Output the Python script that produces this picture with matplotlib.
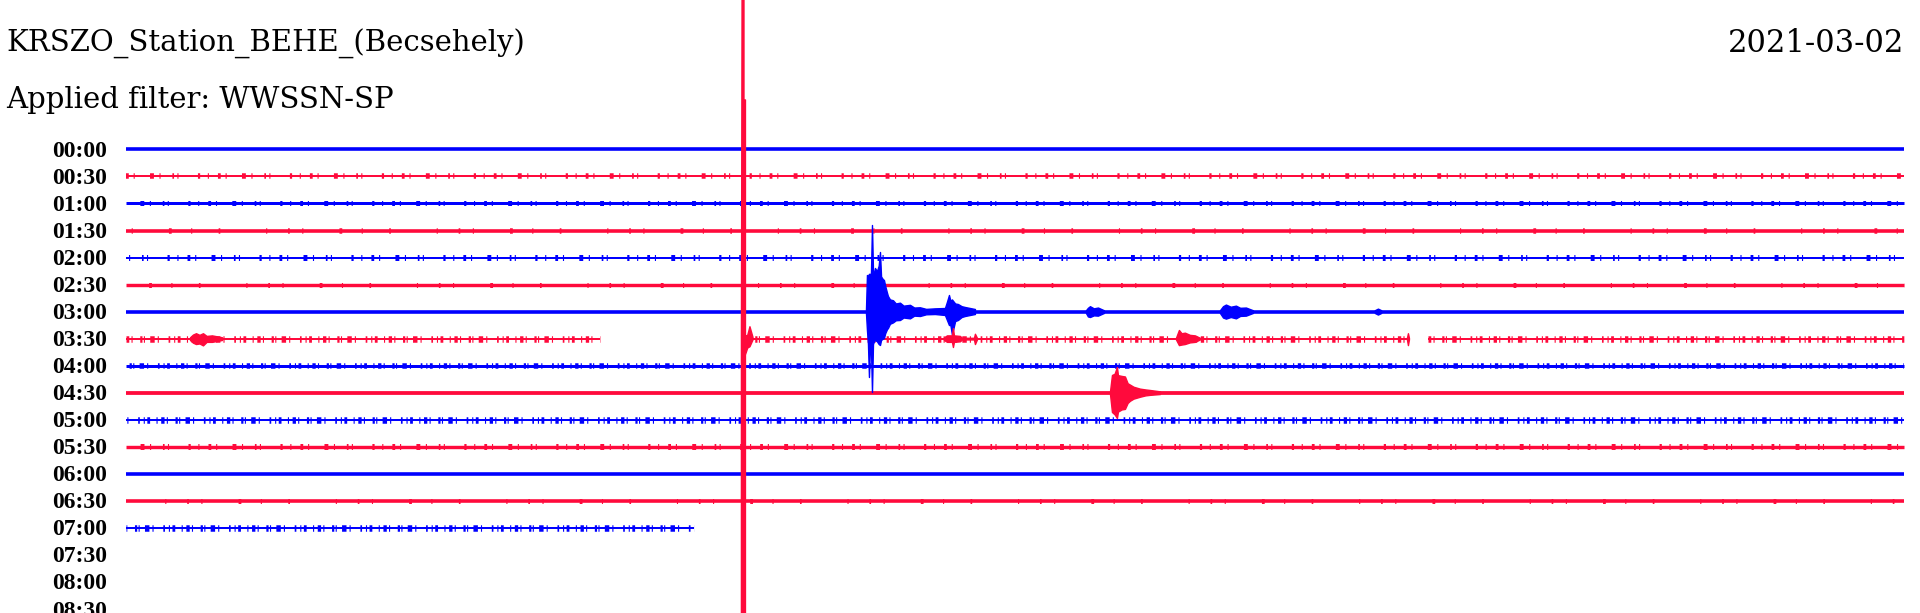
import numpy as np
import matplotlib
matplotlib.use("Agg")
import matplotlib.pyplot as plt

plt.rcParams['lines.scale_dashes'] = False

# Helicorder: 30 minutes per line, amplitudes in units of line spacing
station = "KRSZO_Station_BEHE_(Becsehely)"
filter_txt = "Applied filter: WWSSN-SP"
day = "2021-03-02"
row_labels = ["00:00", "00:30", "01:00", "01:30", "02:00", "02:30", "03:00", "03:30",
              "04:00", "04:30", "05:00", "05:30", "06:00", "06:30", "07:00", "07:30",
              "08:00", "08:30"]

# recorded stretches per line (minutes from line start)
segments = [[(0, 30)]] * 7 + [[(0, 8.0), (10.38, 21.66), (21.97, 30)]] + [[(0, 30)]] * 6 + [[(0, 9.58)]]

# events: minutes, upward / downward envelope (line spacings)
ev_0300_t = [12.485, 12.502, 12.519, 12.536, 12.553, 12.570, 12.587, 12.604, 12.620, 12.637,
             12.671, 12.700, 12.722, 12.740, 12.770, 12.789, 12.810, 12.840, 12.856, 12.890,
             12.941, 12.990, 13.059, 13.120, 13.228, 13.300, 13.396, 13.500, 13.650, 13.818,
             13.850, 13.886, 13.910, 13.936, 13.990, 14.037, 14.100, 14.156, 14.324]
ev_0300_up = [0.03, 1.354, 1.30, 1.40, 1.35, 1.45, 3.204, 1.50, 1.40, 1.613,
              1.50, 1.70, 2.205, 1.30, 1.20, 1.169, 0.95, 0.70, 0.577, 0.45,
              0.42, 0.30, 0.33, 0.22, 0.25, 0.15, 0.16, 0.10, 0.12, 0.133,
              0.35, 0.614, 0.40, 0.45, 0.30, 0.281, 0.20, 0.170, 0.096]
ev_0300_dn = [0.03, 0.681, 1.20, 2.420, 1.30, 1.35, 2.974, 1.20, 1.10, 1.051,
              1.10, 1.20, 1.236, 1.05, 1.00, 0.977, 0.80, 0.65, 0.607, 0.45,
              0.40, 0.32, 0.311, 0.22, 0.25, 0.15, 0.163, 0.10, 0.09, 0.126,
              0.30, 0.496, 0.50, 0.85, 0.35, 0.311, 0.20, 0.163, 0.089]

ev_0300b_t = [16.197, 16.230, 16.265, 16.330, 16.400, 16.501]
ev_0300b_up = [0.05, 0.14, 0.20, 0.12, 0.15, 0.05]
ev_0300b_dn = [0.05, 0.18, 0.20, 0.14, 0.15, 0.05]

ev_0300c_t = [18.458, 18.510, 18.559, 18.640, 18.728, 18.800, 18.897, 19.015]
ev_0300c_up = [0.05, 0.20, 0.26, 0.18, 0.22, 0.14, 0.15, 0.05]
ev_0300c_dn = [0.05, 0.22, 0.26, 0.20, 0.25, 0.16, 0.15, 0.05]

ev_0300d_t = [21.07, 21.124, 21.18]
ev_0300d_up = [0.05, 0.11, 0.05]
ev_0300d_dn = [0.05, 0.11, 0.05]

ev_0330a_t = [1.080, 1.130, 1.181, 1.240, 1.299, 1.360, 1.451, 1.620]
ev_0330a_up = [0.05, 0.15, 0.20, 0.14, 0.20, 0.10, 0.12, 0.05]
ev_0330a_dn = [0.05, 0.15, 0.20, 0.18, 0.25, 0.12, 0.12, 0.05]

# glitch spike at 03:40 that runs off the whole sheet
ev_0330b_t = [10.384, 10.410, 10.427, 10.427, 10.452, 10.452, 10.490, 10.528, 10.579]
ev_0330b_up = [0.05, 30, 30, 8.83, 8.83, 0.10, 0.12, 0.44, 0.05]
ev_0330b_dn = [30, 30, 30, 30, 30, 0.60, 0.35, 0.30, 0.05]

ev_0330c_t = [13.801, 13.852, 13.936, 13.953, 13.970, 14.071, 14.105, 14.307, 14.324, 14.358]
ev_0330c_up = [0.05, 0.12, 0.12, 0.39, 0.12, 0.10, 0.03, 0.03, 0.18, 0.03]
ev_0330c_dn = [0.05, 0.12, 0.12, 0.31, 0.12, 0.10, 0.03, 0.03, 0.20, 0.03]

ev_0330d_t = [17.716, 17.766, 17.810, 17.867, 17.950, 18.036, 18.121]
ev_0330d_up = [0.03, 0.32, 0.20, 0.22, 0.14, 0.12, 0.03]
ev_0330d_dn = [0.03, 0.24, 0.22, 0.20, 0.14, 0.12, 0.03]

ev_0330e_t = [21.613, 21.630, 21.647]
ev_0330e_up = [0.03, 0.20, 0.03]
ev_0330e_dn = [0.03, 0.24, 0.03]

ev_0430_t = [16.602, 16.636, 16.680, 16.720, 16.737, 16.800, 16.855, 16.900, 16.939, 17.000,
             17.108, 17.200, 17.277, 17.446]
ev_0430_up = [0.03, 0.655, 0.70, 0.951, 0.65, 0.62, 0.60, 0.35, 0.30, 0.22,
              0.15, 0.12, 0.10, 0.05]
ev_0430_dn = [0.03, 0.714, 0.80, 0.936, 0.70, 0.62, 0.60, 0.38, 0.30, 0.22,
              0.15, 0.10, 0.08, 0.05]

events = [
    (6, ev_0300_t, ev_0300_up, ev_0300_dn),
    (6, ev_0300b_t, ev_0300b_up, ev_0300b_dn),
    (6, ev_0300c_t, ev_0300c_up, ev_0300c_dn),
    (6, ev_0300d_t, ev_0300d_up, ev_0300d_dn),
    (7, ev_0330a_t, ev_0330a_up, ev_0330a_dn),
    (7, ev_0330b_t, ev_0330b_up, ev_0330b_dn),
    (7, ev_0330c_t, ev_0330c_up, ev_0330c_dn),
    (7, ev_0330d_t, ev_0330d_up, ev_0330d_dn),
    (7, ev_0330e_t, ev_0330e_up, ev_0330e_dn),
    (9, ev_0430_t, ev_0430_up, ev_0430_dn),
]

# trace look: base width and noise-blip width (pixels), blip density
colors = ['#0000ff', '#ff0a3c']
base_px = [3.6, 2, 3, 3.6, 2, 3.4, 3.6, 2, 3, 3.8, 2, 3.4, 3.6, 3.6, 2]
blip_px = [0, 5.5, 5, 5.5, 6, 5, 0, 6.5, 5.5, 0, 6.5, 6, 0, 5, 6.5]
blip_kind = ['', 'm', 'm', 's', 'm', 's', '', 'd', 'd', '', 'd', 'm', '', 's', 'd']
patterns = {
    'd': (0.8, 2.6, 2.4, 1.6, 0.8, 5.5, 1.6, 1.0, 0.8, 3.8, 3.2, 2.2, 0.8, 7.0, 1.2, 2.8,
          0.8, 1.8, 2.0, 4.6),
    'm': (0.8, 6.5, 2.0, 3.5, 0.8, 11, 2.8, 4.0, 0.8, 8.5, 1.2, 2.4, 0.8, 14, 1.6, 5.5),
    's': (0.8, 15, 1.2, 9, 0.8, 26, 2.0, 14, 0.8, 19, 1.2, 33),
}
PX = 0.72  # points per pixel at dpi 100

fig = plt.figure(figsize=(19.2, 6.13), dpi=100)
ax = fig.add_axes([0, 0, 1, 1])
ax.axis('off')
ax.set_xlim(-2.126, 30.27)
ax.set_ylim(17.15, -5.527)

for i, segs in enumerate(segments):
    c = colors[i % 2]
    for s, e in segs:
        ax.plot([s, e], [i, i], color=c, lw=base_px[i] * PX, solid_capstyle='butt', zorder=2)
        if blip_px[i] > 0:
            ax.plot([s, e], [i, i], color=c, lw=blip_px[i] * PX, solid_capstyle='butt',
                    dash_capstyle='butt', linestyle=(i * 7.3, patterns[blip_kind[i]]), zorder=2)

for row, t, up, dn in events:
    t = np.array(t)
    ax.fill_between(t, row - np.array(up), row + np.array(dn), color=colors[row % 2],
                    lw=1.0, zorder=3)

for i, lab in enumerate(row_labels):
    ax.text(-0.32, i + 0.28, lab, ha='right', va='baseline', fontsize=17,
            fontfamily='Liberation Serif', fontweight='bold', color='black')

fig.text(6 / 1920, 1 - 52 / 613, station, ha='left', va='baseline', fontsize=21,
         fontfamily='DejaVu Serif', color='black')
fig.text(6 / 1920, 1 - 108 / 613, filter_txt, ha='left', va='baseline', fontsize=21,
         fontfamily='DejaVu Serif', color='black')
fig.text(1904 / 1920, 1 - 52 / 613, day, ha='right', va='baseline', fontsize=22,
         fontfamily='DejaVu Serif', color='black')

fig.savefig("out.png", dpi=100, facecolor='white')
